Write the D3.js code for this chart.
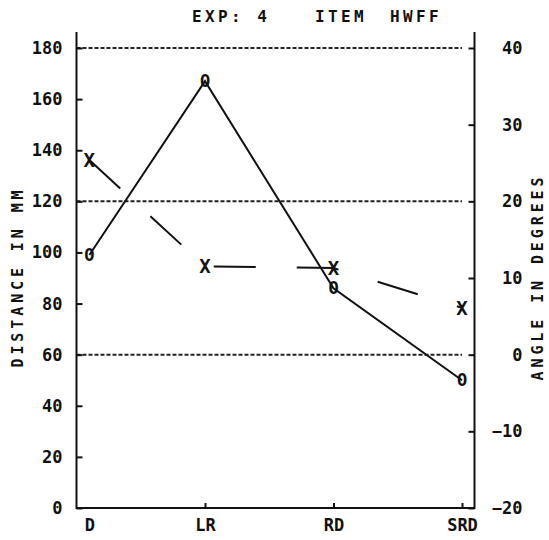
<!DOCTYPE html>
<html lang="en">
<head>
<meta charset="utf-8">
<title>EXP 4 ITEM HWFF</title>
<script src="https://cdnjs.cloudflare.com/ajax/libs/d3/7.8.5/d3.min.js"></script>
<style>
  body { margin: 0; background: #fff; }
  text { font-family: "DejaVu Sans Mono", monospace; fill: #111; font-weight: bold; }
</style>
</head>
<body>
<div id="chart"></div>
<script>

// ---------------------------//
//          DATA              //
// ---------------------------//
var categories = ["D", "LR", "RD", "SRD"];
var catIndex = [0.1, 1, 2, 3];          // position of each condition on the x axis
var distance = [99, 167, 86, 50];       // mm, plotted as O (left axis)
var angle = [25.4, 11.5, 11.3, 6.1];    // degrees, plotted as X (right axis)
var distTicks = [0, 20, 40, 60, 80, 100, 120, 140, 160, 180];
var angleTicks = [-20, -10, 0, 10, 20, 30, 40];
var gridDist = [60, 120, 180];

// ---------------------------//
//       SVG AND SCALES       //
// ---------------------------//
var W = 549, H = 540;
var plotLeft = 76.5, plotRight = 474.5, plotTop = 48, plotBottom = 508, axisTopPx = 32;

var svg = d3.select("#chart").append("svg")
  .attr("width", W)
  .attr("height", H);

svg.append("rect").attr("width", W).attr("height", H).attr("fill", "#fff");

var x = d3.scaleLinear().domain([0, 3]).range([plotLeft, 462]);
var yL = d3.scaleLinear().domain([0, 180]).range([plotBottom, plotTop]);
var yR = d3.scaleLinear().domain([-20, 40]).range([plotBottom, plotTop]);

// dashed reference lines
svg.append("g")
  .selectAll("line")
  .data(gridDist)
  .enter()
  .append("line")
    .attr("x1", plotLeft)
    .attr("x2", x(3))
    .attr("y1", function(d) { return yL(d); })
    .attr("y2", function(d) { return yL(d); })
    .attr("stroke", "#222")
    .attr("stroke-width", 2)
    .attr("stroke-dasharray", "4,2");

// ---------------------------//
//           AXES             //
// ---------------------------//
var gLeft = svg.append("g")
  .attr("transform", "translate(" + plotLeft + ",0)")
  .call(d3.axisLeft(yL).tickValues(distTicks).tickSizeInner(-6).tickSizeOuter(0).tickPadding(14));

var gRight = svg.append("g")
  .attr("transform", "translate(" + plotRight + ",0)")
  .call(d3.axisRight(yR).tickValues(angleTicks).tickSizeInner(-6).tickSizeOuter(0));

var gBottom = svg.append("g")
  .attr("transform", "translate(0," + plotBottom + ")")
  .call(d3.axisBottom(x).tickValues(catIndex)
    .tickFormat(function(d, i) { return categories[i]; })
    .tickSizeInner(-5).tickSizeOuter(0).tickPadding(11));

[gLeft, gRight, gBottom].forEach(function(g) {
  g.select(".domain").remove();
  g.selectAll("line").attr("stroke", "#111").attr("stroke-width", 2);
  g.selectAll("text").style("font-size", "17px").attr("fill", "#111")
    .style("font-family", "'DejaVu Sans Mono', monospace").style("font-weight", "bold");
});

gRight.selectAll("text").attr("text-anchor", "end").attr("x", 48);
// no tick mark for D
gBottom.selectAll(".tick").filter(function(d, i) { return i === 0; }).select("line").remove();

// frame lines (left, right, bottom)
svg.append("path")
  .attr("d", "M" + plotLeft + "," + axisTopPx + "V" + plotBottom + "H" + plotRight + "V" + axisTopPx)
  .attr("fill", "none")
  .attr("stroke", "#111")
  .attr("stroke-width", 2);

// ---------------------------//
//          SERIES            //
// ---------------------------//
var distLine = d3.line()
  .x(function(d, i) { return x(catIndex[i]); })
  .y(function(d) { return yL(d); });

var angleLine = d3.line()
  .x(function(d, i) { return x(catIndex[i]); })
  .y(function(d) { return yR(d); });

svg.append("path")
  .datum(distance)
  .attr("d", distLine)
  .attr("fill", "none")
  .attr("stroke", "#111")
  .attr("stroke-width", 2);

svg.append("path")
  .datum(angle)
  .attr("d", angleLine)
  .attr("fill", "none")
  .attr("stroke", "#111")
  .attr("stroke-width", 2)
  .attr("stroke-dasharray", "42,41");

svg.append("g")
  .selectAll("text")
  .data(distance)
  .enter()
  .append("text")
    .attr("x", function(d, i) { return x(catIndex[i]); })
    .attr("y", function(d) { return yL(d); })
    .attr("dy", "0.36em")
    .attr("text-anchor", "middle")
    .style("font-size", "17px")
    .text("O");

svg.append("g")
  .selectAll("text")
  .data(angle)
  .enter()
  .append("text")
    .attr("x", function(d, i) { return x(catIndex[i]); })
    .attr("y", function(d) { return yR(d); })
    .attr("dy", "0.36em")
    .attr("text-anchor", "middle")
    .style("font-size", "19px")
    .text("X");

// ---------------------------//
//          TITLES            //
// ---------------------------//
var titleParts = [["EXP: 4", 192], ["ITEM", 315], ["HWFF", 390]];
svg.append("g")
  .selectAll("text")
  .data(titleParts)
  .enter()
  .append("text")
    .attr("x", function(d) { return d[1]; })
    .attr("y", 22)
    .style("font-size", "16px")
    .style("letter-spacing", "3.4px")
    .text(function(d) { return d[0]; });

svg.append("text")
  .attr("transform", "translate(23,277) rotate(-90)")
  .attr("text-anchor", "middle")
  .style("font-size", "15px")
  .style("letter-spacing", "3.9px")
  .text("DISTANCE IN MM");

svg.append("text")
  .attr("transform", "translate(542.5,277) rotate(-90)")
  .attr("text-anchor", "middle")
  .style("font-size", "15px")
  .style("letter-spacing", "3.9px")
  .text("ANGLE IN DEGREES");

</script>
</body>
</html>
